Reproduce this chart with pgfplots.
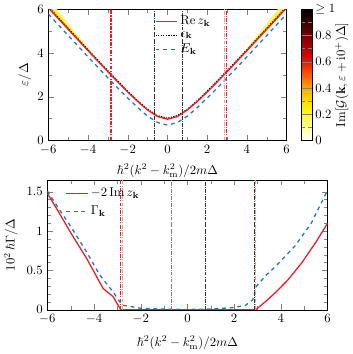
\documentclass[border=0pt]{standalone}
\usepackage{pgfplots}
\pgfplotsset{compat=1.18}
\usepackage{amssymb}
\definecolor{myred}{RGB}{235,30,35}
\definecolor{lred}{RGB}{245,150,150}
\definecolor{myblue}{RGB}{31,119,180}
\pgfplotsset{
    hotr/.style={colormap={hotr}{rgb255=(255,255,255) rgb255=(255,255,130) rgb255=(255,240,0)
        rgb255=(255,185,0) rgb255=(255,90,0) rgb255=(225,10,0) rgb255=(150,0,0) rgb255=(70,0,0) rgb255=(0,0,0)}},
}
\begin{document}
\begin{tikzpicture}
% lower panel: decay rates
\begin{axis}[
    at={(0,0)}, anchor=south west,
    scale only axis, width=220pt, height=102pt,
    xmin=-6, xmax=6, ymin=0, ymax=1.65,
    xtick={-6,-4,...,6}, ytick={0,0.5,1,1.5},
    yticklabels={0,0.5,1,1.5},
    minor x tick num=1, minor y tick num=4,
    xlabel={$\hbar^2(k^2-k_\mathrm{m}^2)/2m\Delta$},
    xlabel style={yshift=-3pt},
    ylabel={$10^2\,\hbar\Gamma/\Delta$},
    legend style={at={(0.05,0.98)}, anchor=north west, draw=none, fill=none,
        row sep=2pt},
    legend cell align=left,
]
\addplot[draw=myred, line width=1pt] coordinates {
    (-6,1.48) (-5.57,1.27) (-5.0,0.98) (-4.31,0.65) (-3.61,0.27) (-3.19,0.17) (-2.85,0.0)
    (0,0) (2.92,0) (3.4,0.12) (3.8,0.23) (4.3,0.38) (4.9,0.6) (5.5,0.86) (6,1.1)};
\addlegendentry{$-2\,\mathrm{Im}\,z_\mathbf{k}$}
\addplot[draw=myblue, line width=1pt, dashed] coordinates {
    (-6,1.51) (-5.5,1.28) (-5.0,1.06) (-4.31,0.73) (-3.75,0.44) (-3.19,0.23) (-2.8,0.06)
    (-2,0.02) (-1,0.01) (0,0.005) (1,0.01) (2,0.03) (2.5,0.06) (2.8,0.13) (2.95,0.3)
    (3.4,0.45) (3.8,0.56) (4.6,0.81) (5.3,1.1) (6,1.52)};
\addlegendentry{$\Gamma_\mathbf{k}$}
\addplot[draw=lred, line width=0.8pt, densely dashdotted, forget plot] coordinates {(-2.78,0) (-2.78,1.65)};
\addplot[draw=myred, line width=0.8pt, densely dashdotted, forget plot] coordinates {(-2.85,0) (-2.85,1.65)};
\addplot[draw=gray, densely dashdotted, forget plot] coordinates {(-0.7,0) (-0.7,1.65)};
\addplot[draw=black!80, densely dashdotted, forget plot] coordinates {(0.75,0) (0.75,1.65)};
\addplot[draw=lred, line width=0.8pt, densely dashdotted, forget plot] coordinates {(2.93,0) (2.93,1.65)};
\addplot[draw=black!80, densely dashdotted, forget plot] coordinates {(2.85,0) (2.85,1.65)};
\end{axis}
% upper panel: dispersion
\begin{axis}[
    at={(0.8pt,133pt)}, anchor=south west,
    scale only axis, width=187pt, height=103pt,
    xmin=-6, xmax=6, ymin=0, ymax=6,
    xtick={-6,-4,...,6}, ytick={0,2,4,6},
    minor x tick num=1, minor y tick num=1,
    xlabel={$\hbar^2(k^2-k_\mathrm{m}^2)/2m\Delta$},
    xlabel style={yshift=-1pt},
    ylabel={$\varepsilon/\Delta$},
    ylabel style={yshift=-2pt},
    hotr, point meta min=0, point meta max=1,
    colorbar,
    colorbar style={
        at={(parent axis.north east)}, anchor=north west, xshift=3pt,
        width=8.5pt,
        ytick={0,0.2,...,1},
        yticklabels={0,0.2,0.4,0.6,0.8,$\geq1$},
        yticklabel style={xshift=-1pt},
        minor y tick num=1,
        ylabel={$\mathrm{Im}[\mathcal{G}(\mathbf{k},\varepsilon+\mathrm{i}0^+)\Delta]$},
        ylabel style={yshift=7pt},
    },
    legend style={at={(0.43,0.99)}, anchor=north west, draw=none, fill=none,
        row sep=0pt},
    legend cell align=left,
]
\addlegendimage{draw=myred, line width=1pt}
\addlegendentry{$\mathrm{Re}\,z_\mathbf{k}$}
\addlegendimage{draw=black, line width=1pt, densely dotted}
\addlegendentry{$\epsilon_\mathbf{k}$}
\addlegendimage{draw=myblue, line width=1pt, dashed}
\addlegendentry{$E_\mathbf{k}$}
% spectral weight glow around the dispersion
\addplot[fill=yellow!60, draw=none, forget plot] coordinates {
    (-6.2,6.85) (-6,6.5) (-5.5,5.93) (-5,5.35) (-4.5,4.78) (-4,4.21) (-3.5,3.67) (-3.2,3.35)
    (-3.5,3.60) (-4,4.08) (-4.5,4.57) (-5,5.06) (-5.5,5.55) (-6,6.04) (-6.2,6.2)};
\addplot[fill=yellow!90!orange, draw=none, forget plot] coordinates {
    (-6.2,6.45) (-6,6.25) (-5.5,5.72) (-5,5.20) (-4.5,4.68) (-4,4.15) (-3.6,3.72)
    (-4,4.10) (-4.5,4.59) (-5,5.08) (-5.5,5.57) (-6,6.06)};
\addplot[fill=yellow!60, draw=none, forget plot] coordinates {
    (6.2,6.85) (6,6.5) (5.5,5.93) (5,5.35) (4.5,4.78) (4,4.21) (3.5,3.67) (3.2,3.35)
    (3.5,3.60) (4,4.08) (4.5,4.57) (5,5.06) (5.5,5.55) (6,6.04) (6.2,6.2)};
\addplot[fill=yellow!90!orange, draw=none, forget plot] coordinates {
    (6.2,6.45) (6,6.25) (5.5,5.72) (5,5.20) (4.5,4.68) (4,4.15) (3.6,3.72)
    (4,4.10) (4.5,4.59) (5,5.08) (5.5,5.57) (6,6.06)};
\addplot[draw=myblue, line width=1pt, dashed, forget plot] coordinates {
    (-6,5.78) (-5.5,5.29) (-5,4.80) (-4.5,4.31) (-4,3.82) (-3.5,3.34) (-3,2.86) (-2.5,2.39)
    (-2,1.94) (-1.5,1.50) (-1,1.11) (-0.5,0.82) (0,0.70) (0.5,0.82) (1,1.11) (1.5,1.50)
    (2,1.94) (2.5,2.39) (3,2.86) (3.5,3.34) (4,3.82) (4.5,4.31) (5,4.80) (5.5,5.29) (6,5.78)};
\addplot[draw=black, line width=1pt, densely dotted, forget plot] coordinates {
    (-6,6.10) (-5.5,5.61) (-5,5.12) (-4.5,4.63) (-4,4.14) (-3.5,3.66) (-3,3.18) (-2.5,2.71)
    (-2,2.25) (-1.5,1.81) (-1,1.42) (-0.5,1.13) (0,1.01) (0.5,1.13) (1,1.42) (1.5,1.81)
    (2,2.25) (2.5,2.71) (3,3.18) (3.5,3.66) (4,4.14) (4.5,4.63) (5,5.12) (5.5,5.61) (6,6.10)};
\addplot[draw=myred, line width=1pt, forget plot] coordinates {
    (-6,6.06) (-5.5,5.57) (-5,5.08) (-4.5,4.59) (-4,4.10) (-3.5,3.62) (-3,3.14) (-2.5,2.67)
    (-2,2.21) (-1.5,1.78) (-1,1.39) (-0.5,1.09) (0,0.97) (0.5,1.09) (1,1.39) (1.5,1.78)
    (2,2.21) (2.5,2.67) (3,3.14) (3.5,3.62) (4,4.10) (4.5,4.59) (5,5.08) (5.5,5.57) (6,6.06)};
\addplot[draw=myred, line width=1.2pt, densely dashdotted, forget plot] coordinates {(-2.85,0) (-2.85,6)};
\addplot[draw=black!80, densely dashdotted, forget plot] coordinates {(-0.68,0) (-0.68,6)};
\addplot[draw=black!80, densely dashdotted, forget plot] coordinates {(0.75,0) (0.75,6)};
\addplot[draw=lred, line width=0.8pt, densely dashdotted, forget plot] coordinates {(2.85,0) (2.85,6)};
\addplot[draw=myred, line width=0.8pt, densely dashdotted, forget plot] coordinates {(2.97,0) (2.97,6)};
\end{axis}
\end{tikzpicture}
\end{document}
